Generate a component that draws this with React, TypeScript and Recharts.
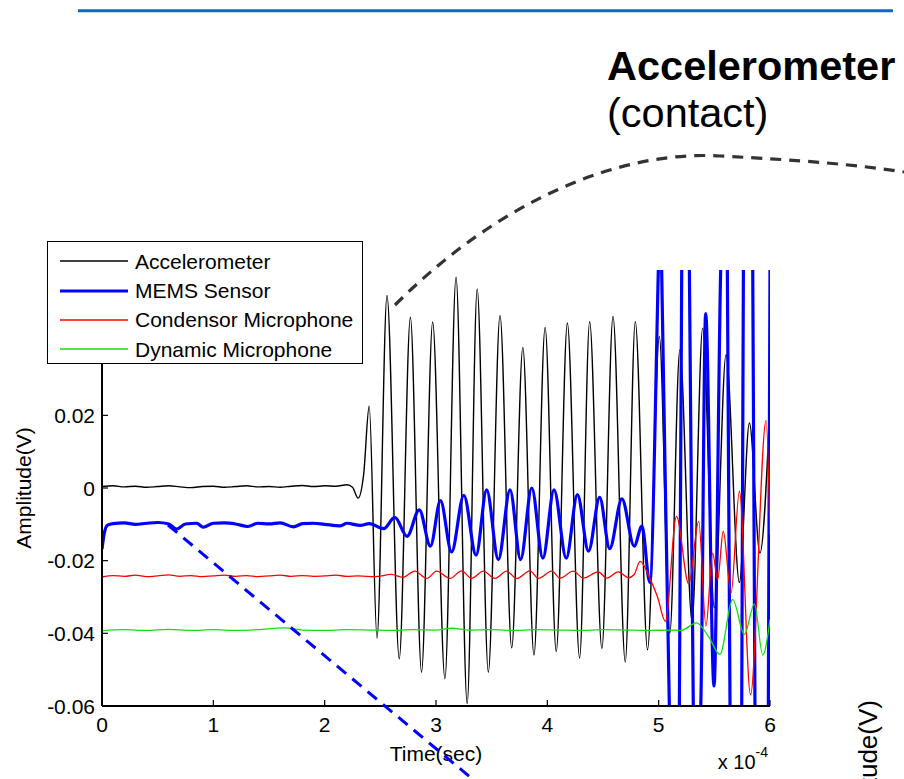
import React from 'react';
import { LineChart, Line, XAxis, YAxis, Legend } from 'recharts';

const FONT = '"Liberation Sans", Arial, Helvetica, sans-serif';

// time axis is in units of 1e-4 s
const accTime = [0, 0.1, 0.2, 0.3, 0.4, 0.5, 0.6, 0.7, 0.8, 0.9, 1.0, 1.1, 1.2, 1.3, 1.4, 1.5, 1.6, 1.7, 1.8, 1.9, 2.0, 2.1, 2.2, 2.25, 2.3, 2.35, 2.4, 2.47, 2.56, 2.67, 2.77, 2.87, 2.97, 3.08, 3.18, 3.28, 3.37, 3.47, 3.575, 3.68, 3.78, 3.88, 3.98, 4.08, 4.18, 4.29, 4.38, 4.49, 4.59, 4.7, 4.79, 4.9, 5.006, 5.1, 5.19, 5.3, 5.395, 5.5, 5.605, 5.725, 5.815, 5.91, 6.0];
const accVolt = [0.0004, 0.0006, 0.0003, 0.0005, 0.0002, 0.0004, 0.0006, 0.0003, 0.0001, 0.0004, 0.0005, 0.0002, 0.0004, 0.0006, 0.0003, 0.0004, 0.0002, 0.0005, 0.0007, 0.0004, 0.0006, 0.0005, 0.0009, 0.0002, -0.0028, 0.0037, 0.0225, -0.0413, 0.053, -0.047, 0.047, -0.0507, 0.0457, -0.0525, 0.058, -0.0593, 0.0548, -0.0507, 0.0475, -0.044, 0.0387, -0.046, 0.0442, -0.045, 0.0454, -0.0468, 0.0458, -0.0442, 0.0472, -0.0479, 0.0458, -0.0445, 0.0417, -0.04, 0.038, -0.0367, 0.044, -0.033, 0.0367, -0.026, 0.0179, -0.0179, 0.023];

const memsTime = [0, 0.02, 0.05, 0.1, 0.2, 0.3, 0.4, 0.5, 0.6, 0.67, 0.75, 0.85, 0.91, 1.0, 1.1, 1.2, 1.31, 1.4, 1.5, 1.6, 1.72, 1.8, 1.9, 2.0, 2.14, 2.2, 2.32, 2.4, 2.53, 2.63, 2.74, 2.85, 2.95, 3.04, 3.14, 3.25, 3.36, 3.455, 3.56, 3.665, 3.76, 3.86, 3.96, 4.06, 4.17, 4.27, 4.37, 4.47, 4.56, 4.67, 4.78, 4.85, 4.92, 4.997, 5.012, 5.027, 5.096, 5.14, 5.186, 5.207, 5.24, 5.276, 5.311, 5.345, 5.378, 5.422, 5.497, 5.557, 5.587, 5.617, 5.641, 5.69, 5.746, 5.761, 5.803, 5.845, 5.865, 5.925, 5.985, 6.0];
const memsVolt = [-0.0168, -0.0125, -0.0102, -0.0098, -0.0096, -0.01, -0.0097, -0.0095, -0.0099, -0.0113, -0.0099, -0.0097, -0.0108, -0.0097, -0.0096, -0.0099, -0.0106, -0.0097, -0.0099, -0.0096, -0.0107, -0.0098, -0.0097, -0.01, -0.0104, -0.0097, -0.0103, -0.0098, -0.0112, -0.0081, -0.0133, -0.006, -0.016, -0.0035, -0.0176, -0.002, -0.0185, -0.0005, -0.0197, -0.0005, -0.0197, 0, -0.0193, -0.0005, -0.0193, -0.0018, -0.0174, -0.0026, -0.0167, -0.003, -0.016, -0.0105, -0.026, 0.06, 0.08, 0.06, -0.06, -0.085, -0.06, 0.06, 0.085, 0.06, -0.06, -0.075, -0.06, 0.048, -0.0545, 0.06, 0.09, 0.06, -0.06, -0.1, -0.06, 0.06, 0.09, 0.06, -0.06, -0.09, -0.06, 0.06];

const condTime = [0, 0.1, 0.2, 0.3, 0.4, 0.5, 0.6, 0.7, 0.8, 0.9, 1.0, 1.1, 1.2, 1.3, 1.4, 1.5, 1.6, 1.7, 1.8, 1.9, 2.0, 2.1, 2.2, 2.3, 2.45, 2.6, 2.7, 2.81, 2.916, 3.006, 3.126, 3.23, 3.32, 3.425, 3.53, 3.635, 3.725, 3.844, 3.92, 4.04, 4.114, 4.233, 4.323, 4.458, 4.533, 4.638, 4.727, 4.78, 4.833, 4.92, 4.99, 5.06, 5.16, 5.27, 5.36, 5.425, 5.485, 5.53, 5.58, 5.65, 5.725, 5.825, 5.965, 6.0];
const condVolt = [-0.0245, -0.0241, -0.0243, -0.024, -0.0244, -0.0242, -0.0239, -0.0243, -0.0241, -0.0244, -0.0242, -0.024, -0.0243, -0.0241, -0.0244, -0.0242, -0.024, -0.0243, -0.0241, -0.0243, -0.0242, -0.024, -0.0243, -0.0242, -0.0244, -0.0238, -0.0246, -0.0229, -0.0249, -0.0229, -0.0249, -0.0228, -0.0249, -0.0229, -0.0249, -0.0229, -0.0249, -0.0228, -0.0249, -0.0229, -0.0248, -0.0229, -0.0248, -0.0231, -0.0248, -0.0231, -0.0247, -0.0238, -0.0202, -0.0248, -0.03, -0.0367, -0.0078, -0.0264, -0.0092, -0.038, -0.0179, -0.0252, -0.0119, -0.0289, -0.0009, -0.0569, 0.0186, -0.0128];

const dynTime = [0, 0.2, 0.4, 0.6, 0.8, 1.0, 1.2, 1.4, 1.64, 1.8, 2.0, 2.2, 2.4, 2.6, 2.8, 3.0, 3.14, 3.3, 3.5, 3.7, 3.9, 4.1, 4.3, 4.5, 4.7, 4.9, 5.1, 5.2, 5.34, 5.45, 5.55, 5.665, 5.77, 5.86, 5.935, 6.0];
const dynVolt = [-0.0393, -0.039, -0.0392, -0.0389, -0.0392, -0.039, -0.0392, -0.039, -0.0385, -0.0391, -0.0392, -0.039, -0.0391, -0.0392, -0.039, -0.0391, -0.0386, -0.0391, -0.039, -0.0392, -0.039, -0.0391, -0.0392, -0.039, -0.0391, -0.0392, -0.0391, -0.0392, -0.0371, -0.041, -0.0458, -0.0307, -0.0403, -0.0319, -0.046, -0.0362];

const seriesNames = ['Accelerometer', 'MEMS Sensor', 'Condensor Microphone', 'Dynamic Microphone'];
const xTicks = [0, 1, 2, 3, 4, 5, 6];
const yTicks = [-0.06, -0.04, -0.02, 0, 0.02, 0.04, 0.06];

const toPoints = (ts: number[], vs: number[]) => ts.map((t, i) => ({ t, v: vs[i] }));

const SERIES = [
  { name: seriesNames[0], data: toPoints(accTime, accVolt), color: '#000000', width: 1.4 },
  { name: seriesNames[1], data: toPoints(memsTime, memsVolt), color: '#0000ff', width: 3.2 },
  { name: seriesNames[2], data: toPoints(condTime, condVolt), color: '#ff0000', width: 1.3 },
  { name: seriesNames[3], data: toPoints(dynTime, dynVolt), color: '#10e010', width: 1.3 },
];

const fmtY = (v: number) => (v === 0 ? '0' : String(v));

const BottomTick = ({ x, y, payload }: any) => (
  <g>
    <line x1={x} y1={y} x2={x} y2={y - 6} stroke="#000" strokeWidth={1.2} />
    <text x={x} y={y + 26} textAnchor="middle" fontSize={21} fontFamily={FONT} fill="#000">{payload.value}</text>
  </g>
);

const LeftTick = ({ x, y, payload }: any) => (
  <g>
    <line x1={x} y1={y} x2={x + 6} y2={y} stroke="#000" strokeWidth={1.2} />
    <text x={x - 7} y={y + 7.5} textAnchor="end" fontSize={21} fontFamily={FONT} fill="#000">{fmtY(payload.value)}</text>
  </g>
);

const TopTick = ({ x, y }: any) => <line x1={x} y1={y} x2={x} y2={y + 6} stroke="#000" strokeWidth={1.2} />;
const RightTick = ({ x, y }: any) => <line x1={x} y1={y} x2={x - 6} y2={y} stroke="#000" strokeWidth={1.2} />;

const TimeLabel = (props: any) => {
  const vb = props.viewBox ?? { x: 102, y: 706, width: 668, height: 73 };
  return (
    <g fontFamily={FONT} fill="#000">
      <text x={vb.x + vb.width / 2} y={761} textAnchor="middle" fontSize={21}>Time(sec)</text>
      <text x={vb.x + vb.width - 2} y={769} textAnchor="end" fontSize={20}>
        x 10<tspan dy={-12} fontSize={14}>-4</tspan>
      </text>
    </g>
  );
};

const LegendBox = () => (
  <div
    style={{
      width: 316,
      height: 123,
      boxSizing: 'border-box',
      border: '1.5px solid #000',
      background: '#fff',
      paddingTop: 4.8,
      fontFamily: FONT,
      fontSize: 21,
      color: '#000',
    }}
  >
    {SERIES.map((s) => (
      <div key={s.name} style={{ height: 29.3, lineHeight: '29.3px', display: 'flex', alignItems: 'center', whiteSpace: 'nowrap' }}>
        <svg width={87} height={10} style={{ flex: 'none' }}>
          <line x1={12} y1={5} x2={80} y2={5} stroke={s.color} strokeWidth={s.width} />
        </svg>
        <span>{s.name}</span>
      </div>
    ))}
  </div>
);

export default function App() {
  return (
    <div style={{ position: 'absolute', left: 0, top: 0, width: 904, height: 779, overflow: 'hidden', background: '#fff', fontFamily: FONT }}>
      <LineChart width={904} height={779} margin={{ top: 270, right: 134, bottom: 0, left: 0 }}>
        <XAxis
          dataKey="t"
          type="number"
          domain={[0, 6]}
          ticks={xTicks}
          interval={0}
          allowDataOverflow
          height={73}
          tickSize={0}
          tickMargin={0}
          tickLine={false}
          tick={<BottomTick />}
          axisLine={{ stroke: '#000', strokeWidth: 2 }}
          label={TimeLabel}
        />
        <XAxis
          xAxisId="top"
          orientation="top"
          type="number"
          domain={[0, 6]}
          ticks={xTicks}
          interval={0}
          allowDataOverflow
          height={0}
          tickSize={0}
          tickMargin={0}
          tickLine={false}
          tick={<TopTick />}
          axisLine={{ stroke: '#000', strokeWidth: 2 }}
        />
        <YAxis
          type="number"
          domain={[-0.06, 0.06]}
          ticks={yTicks}
          interval={0}
          allowDataOverflow
          width={102}
          tickSize={0}
          tickMargin={0}
          tickLine={false}
          tick={<LeftTick />}
          axisLine={{ stroke: '#000', strokeWidth: 2 }}
          label={{ value: 'Amplitude(V)', angle: -90, position: 'insideLeft', offset: 24, style: { textAnchor: 'middle', fontSize: 21, fill: '#000', fontFamily: FONT } }}
        />
        <YAxis
          yAxisId="right"
          orientation="right"
          type="number"
          domain={[-0.06, 0.06]}
          ticks={yTicks}
          interval={0}
          allowDataOverflow
          width={0}
          tickSize={0}
          tickMargin={0}
          tickLine={false}
          tick={<RightTick />}
          axisLine={{ stroke: '#000', strokeWidth: 2 }}
        />
        {SERIES.map((s) => (
          <Line
            key={s.name}
            data={s.data}
            dataKey="v"
            name={s.name}
            type="monotone"
            stroke={s.color}
            strokeWidth={s.width}
            dot={false}
            activeDot={false}
            isAnimationActive={false}
          />
        ))}
        <Legend
          layout="horizontal"
          verticalAlign="middle"
          align="center"
          content={() => <LegendBox />}
          wrapperStyle={{ left: 47, top: 241, width: 316, height: 123 }}
        />
      </LineChart>

      <svg width={904} height={779} style={{ position: 'absolute', left: 0, top: 0, pointerEvents: 'none' }}>
        <line x1={78} y1={10.8} x2={893} y2={10.8} stroke="#1565c0" strokeWidth={3} />
        <text x={607} y={80} fontSize={41.5} fontWeight="bold" fontFamily={FONT} fill="#000">Accelerometer</text>
        <text x={607} y={127} fontSize={41.5} fontFamily={FONT} fill="#000">(contact)</text>
        <path d="M395,305 C500,200 620,150 720,156 C800,160 860,165 904,172" fill="none" stroke="#333" strokeWidth={3.2} strokeDasharray="11 8" />
        <path d="M168,525 L476,782" fill="none" stroke="#0000ff" strokeWidth={3} strokeDasharray="12 8" />
        <text x={877} y={700} transform="rotate(-90 877 700)" textAnchor="end" fontSize={26} fontFamily={FONT} fill="#000">Amplitude(V)</text>
      </svg>
    </div>
  );
}
